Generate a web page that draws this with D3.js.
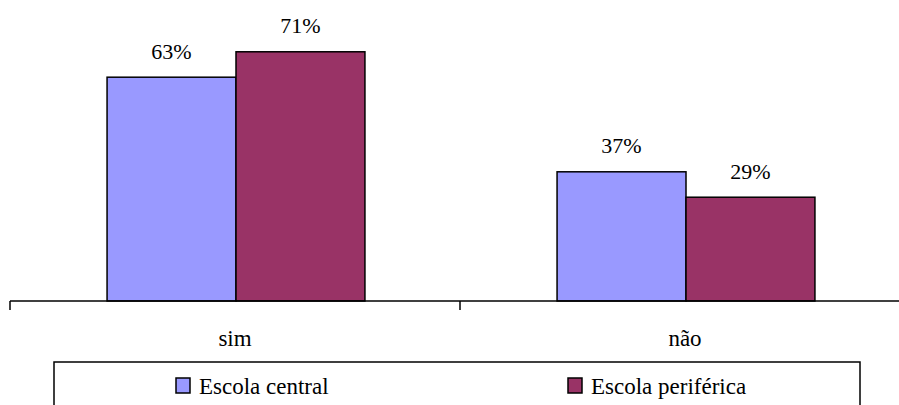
<!DOCTYPE html>
<html>
<head>
<meta charset="utf-8">
<script src="https://cdn.jsdelivr.net/npm/d3@7"></script>
<style>
  body { margin: 0; background: white; }
</style>
</head>
<body>
<svg id="chart"></svg>
<script>
// data
var categories = ["sim", "não"];
var seriesNames = ["Escola central", "Escola periférica"];
var central = [0.634, 0.366];
var periferica = [0.706, 0.294];
var colors = ["#9999FF", "#993366"];

var width = 899, height = 405;
var baseY = 301;
var serif = "Times New Roman, Times, Liberation Serif, DejaVu Serif, serif";

var svg = d3.select("#chart")
    .attr("width", width)
    .attr("height", height)
    .attr("font-family", serif)

var rows = categories.map((c, i) => ({ cat: c, values: [central[i], periferica[i]] }))

var x0 = d3.scaleBand()
    .domain(categories)
    .range([10, 910])
    .padding(0)

var x1 = d3.scaleBand()
    .domain(seriesNames)
    .range([0, x0.bandwidth()])
    .paddingInner(0)
    .paddingOuter(0.745)

var yScale = d3.scaleLinear()
    .domain([0, 0.8])
    .range([baseY, baseY - 282.4])

var fmt = d3.format(".0%")

var groups = svg.selectAll("g.group")
    .data(rows)
    .join("g")
    .attr("class", "group")
    .attr("transform", d => "translate(" + (x0(d.cat) + 1) + ",0)")

groups.selectAll("rect")
    .data(d => d.values.map((v, i) => ({ name: seriesNames[i], value: v, i: i })))
    .join("rect")
    .attr("x", d => x1(d.name))
    .attr("y", d => yScale(d.value))
    .attr("width", x1.bandwidth())
    .attr("height", d => baseY - yScale(d.value))
    .attr("fill", d => colors[d.i])
    .attr("stroke", "black")
    .attr("stroke-width", 1.5)

groups.selectAll("text.label")
    .data(d => d.values.map((v, i) => ({ name: seriesNames[i], value: v })))
    .join("text")
    .attr("class", "label")
    .attr("x", d => x1(d.name) + x1.bandwidth() / 2)
    .attr("y", d => yScale(d.value) - 18.5)
    .attr("text-anchor", "middle")
    .attr("font-family", serif)
    .attr("font-size", 22)
    .text(d => fmt(d.value))

// category axis
var xAxis = svg.append("g")
    .attr("transform", "translate(0," + baseY + ")")
    .call(d3.axisBottom(x0).tickSize(0).tickSizeOuter(0))
    .attr("font-family", serif)
    .attr("font-size", 23)

xAxis.select(".domain")
    .attr("d", "M10,0H910")
    .attr("stroke", "black")
    .attr("stroke-width", 1.5)

xAxis.selectAll(".tick text")
    .attr("fill", "black")
    .attr("y", 45)
    .attr("dy", 0)

// tick marks between categories
svg.selectAll("line.sep")
    .data(x0.domain())
    .join("line")
    .attr("class", "sep")
    .attr("x1", d => x0(d))
    .attr("x2", d => x0(d))
    .attr("y1", baseY)
    .attr("y2", baseY + 9)
    .attr("stroke", "black")
    .attr("stroke-width", 1.5)

// legend
var legend = svg.append("g")

legend.append("rect")
    .attr("x", 54)
    .attr("y", 362)
    .attr("width", 806)
    .attr("height", 60)
    .attr("fill", "white")
    .attr("stroke", "black")
    .attr("stroke-width", 1.5)

var legendX = [176, 568]

var items = legend.selectAll("g.item")
    .data(seriesNames)
    .join("g")
    .attr("class", "item")
    .attr("transform", (d, i) => "translate(" + legendX[i] + ",378)")

items.append("rect")
    .attr("width", 14)
    .attr("height", 15)
    .attr("fill", (d, i) => colors[i])
    .attr("stroke", "black")
    .attr("stroke-width", 1.5)

items.append("text")
    .attr("x", 23)
    .attr("y", 15.5)
    .attr("font-family", serif)
    .attr("font-size", 23)
    .text(d => d)
</script>
</body>
</html>
